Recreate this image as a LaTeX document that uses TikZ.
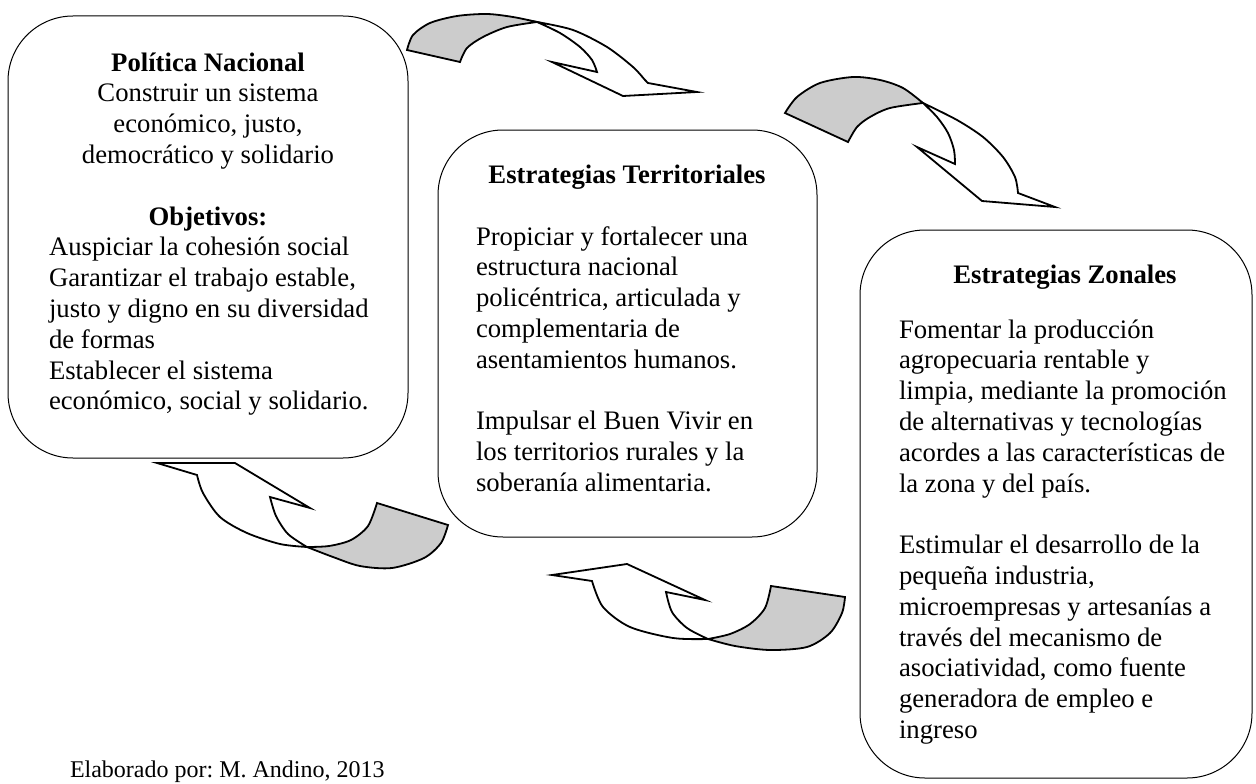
\documentclass[tikz,border=0pt]{standalone}
\usepackage{fontspec}
\setmainfont{Liberation Serif}
\usepackage{tikz}
\frenchspacing

\begin{document}
\begin{tikzpicture}[y=1pt, x=1pt, yscale=-1, inner sep=0pt, outer sep=0pt,
  panel/.style={draw=black, line width=1pt, rounded corners=65pt},
  backface/.style={fill=black!20, draw=black, line width=1.8pt, line join=miter},
  frontface/.style={fill=white, draw=black, line width=1.8pt, line join=miter},
  txt/.style={anchor=base west, font=\fontsize{26.7}{30.8}\selectfont},
  head/.style={anchor=base, font=\fontsize{26.7}{30.8}\selectfont\bfseries},
  mid/.style={anchor=base, font=\fontsize{26.7}{30.8}\selectfont}]

  \useasboundingbox (0,0) rectangle (1256,784);

  % panels
  \path[panel] (8,16) rectangle (408,458);
  \path[panel] (438,130) rectangle (817,537);
  \path[panel] (860,230) rectangle (1252,778);

  % politica nacional
  \path[fill=black] (208,71) node[head] (pnTitle) {Política Nacional};
  \path[fill=black] (208,101.8) node[mid] (pnA) {Construir un sistema};
  \path[fill=black] (208,132.6) node[mid] (pnB) {económico, justo,};
  \path[fill=black] (208,163.4) node[mid] (pnC) {democrático y solidario};
  \path[fill=black] (208,225) node[head] (objTitle) {Objetivos:};
  \path[fill=black] (49,255.8) node[txt] (objA) {Auspiciar la cohesión social};
  \path[fill=black] (49,286.6) node[txt] (objB) {Garantizar el trabajo estable,};
  \path[fill=black] (49,317.4) node[txt] (objC) {justo y digno en su diversidad};
  \path[fill=black] (49,348.2) node[txt] (objD) {de formas};
  \path[fill=black] (49,379) node[txt] (objE) {Establecer el sistema};
  \path[fill=black] (49,409.8) node[txt] (objF) {económico, social y solidario.};

  % estrategias territoriales
  \path[fill=black] (627,183) node[head] (etTitle) {Estrategias Territoriales};
  \path[fill=black] (476,245) node[txt] (etA) {Propiciar y fortalecer una};
  \path[fill=black] (476,275.8) node[txt] (etB) {estructura nacional};
  \path[fill=black] (476,306.6) node[txt] (etC) {policéntrica, articulada y};
  \path[fill=black] (476,337.4) node[txt] (etD) {complementaria de};
  \path[fill=black] (476,368.2) node[txt] (etE) {asentamientos humanos.};
  \path[fill=black] (476,429.8) node[txt] (etF) {Impulsar el Buen Vivir en};
  \path[fill=black] (476,460.6) node[txt] (etG) {los territorios rurales y la};
  \path[fill=black] (476,491.4) node[txt] (etH) {soberanía alimentaria.};

  % estrategias zonales
  \path[fill=black] (1065,283) node[head] (ezTitle) {Estrategias Zonales};
  \path[fill=black] (899,338) node[txt] (ezA) {Fomentar la producción};
  \path[fill=black] (899,368.8) node[txt] (ezB) {agropecuaria rentable y};
  \path[fill=black] (899,399.6) node[txt] (ezC) {limpia, mediante la promoción};
  \path[fill=black] (899,430.4) node[txt] (ezD) {de alternativas y tecnologías};
  \path[fill=black] (899,461.2) node[txt] (ezE) {acordes a las características de};
  \path[fill=black] (899,492) node[txt] (ezF) {la zona y del país.};
  \path[fill=black] (899,553.6) node[txt] (ezG) {Estimular el desarrollo de la};
  \path[fill=black] (899,584.4) node[txt] (ezH) {pequeña industria,};
  \path[fill=black] (899,615.2) node[txt] (ezI) {microempresas y artesanías a};
  \path[fill=black] (899,646) node[txt] (ezJ) {través del mecanismo de};
  \path[fill=black] (899,676.8) node[txt] (ezK) {asociatividad, como fuente};
  \path[fill=black] (899,707.6) node[txt] (ezL) {generadora de empleo e};
  \path[fill=black] (899,738.4) node[txt] (ezM) {ingreso};

  % top arrow
  \path[backface] plot[smooth] coordinates {(407,50) (413,35) (430,23) (457,16) (487,14) (513,17) (537,22)}
    -- plot[smooth] coordinates {(537,22) (507,27) (483,37) (467,48) (460,62)} -- cycle;
  \path[frontface] plot[smooth] coordinates {(537,22) (573,30) (607,47) (633,67) (645,80) (648,83)}
    -- (697,92) -- (623,96) -- (552,62) -- (597,72)
    -- plot[smooth] coordinates {(597,72) (592,60) (580,47) (560,33) (537,22)} -- cycle;

  % right arrow
  \path[backface] plot[smooth] coordinates {(785,113) (797,97) (820,83) (853,77) (880,80) (903,88) (923,103)}
    -- plot[smooth] coordinates {(923,103) (890,108) (870,117) (857,127) (848,142)} -- cycle;
  \path[frontface] plot[smooth] coordinates {(923,103) (957,120) (983,137) (1003,157) (1015,177) (1018,193)}
    -- (1055,207) -- (982,201) -- (917,147) -- (955,164)
    -- plot[smooth] coordinates {(955,164) (954,150) (948,133) (937,117) (923,103)} -- cycle;

  % return arrow, left
  \path[backface] plot[smooth] coordinates {(307,547) (333,557) (360,566) (392,568) (424,558) (441,543) (448,525)}
    -- (377,503)
    -- plot[smooth] coordinates {(377,503) (368,526) (351,540) (329,546) (307,547)} -- cycle;
  \path[frontface] plot[smooth] coordinates {(307,547) (280,544) (247,533) (220,517) (203,493) (197,475)}
    -- (157,463) -- (235,463) -- (310,508) -- (270,497)
    -- plot[smooth] coordinates {(270,497) (276,516) (288,534) (307,547)} -- cycle;

  % return arrow, bottom
  \path[backface] plot[smooth] coordinates {(708,639) (735,646) (770,650) (807,647) (830,633) (842,613) (845,597)}
    -- (771,586)
    -- plot[smooth] coordinates {(771,586) (765,608) (750,624) (730,634) (708,639)} -- cycle;
  \path[frontface] plot[smooth] coordinates {(708,639) (673,638) (630,627) (603,607) (592,581)}
    -- (552,575) -- (627,564) -- (705,600) -- (666,592)
    -- plot[smooth] coordinates {(666,592) (672,612) (687,628) (708,639)} -- cycle;

  \path[fill=black] (70,777) node[anchor=base west, font=\fontsize{24}{28}\selectfont] (credit) {Elaborado por: M. Andino, 2013};

\end{tikzpicture}
\end{document}
